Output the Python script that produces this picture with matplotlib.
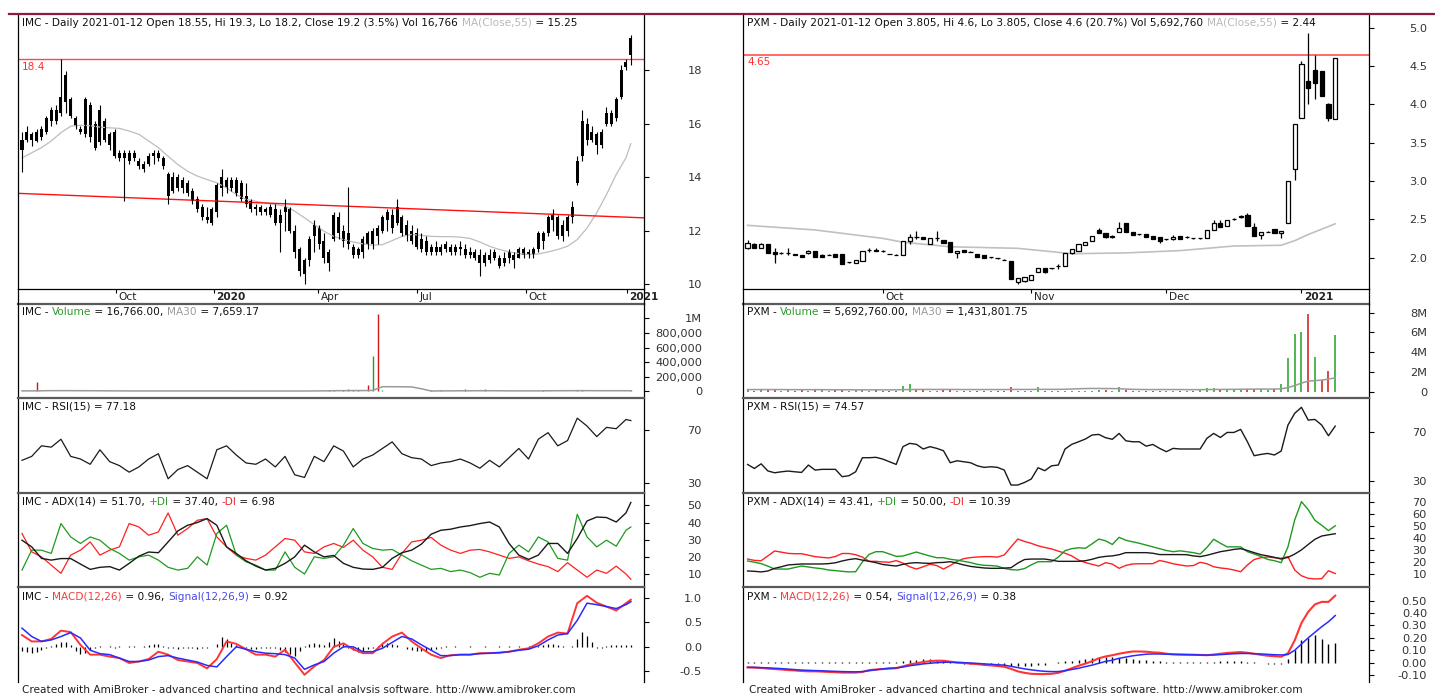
import numpy as np
import matplotlib
matplotlib.use("Agg")
import matplotlib.pyplot as plt
import matplotlib.transforms as mtransforms
from matplotlib.lines import Line2D
from matplotlib.textpath import TextPath
from matplotlib.font_manager import FontProperties

## IMC data (3-day bins)
imc_hi = [15.7, 15.9, 15.7, 15.8, 15.9, 16.3, 16.6, 16.7, 18.4, 17.95,
          17.0, 16.3, 15.9, 17.0, 16.8, 16.1, 16.7, 16.2, 15.7, 15.8,
          15.0, 15.0, 15.0, 15.0, 14.7, 14.6, 14.9, 15.0, 15.0, 14.8,
          14.2, 14.2, 14.1, 14.0, 13.9, 13.6, 13.3, 13.0, 12.9, 12.9,
          13.8, 14.3, 14.0, 14.0, 14.0, 13.9, 13.8, 13.2, 13.0, 12.95,
          12.9, 13.0, 13.0, 12.8, 13.2, 12.9, 12.2, 11.4, 11.0, 11.8,
          12.4, 12.2, 11.9, 11.3, 12.7, 12.7, 12.2, 13.65, 11.5, 11.4,
          11.8, 12.0, 12.1, 12.2, 12.6, 12.8, 12.8, 13.2, 12.6, 12.4,
          12.2, 12.1, 11.9, 11.8, 11.5, 11.6, 11.5, 11.6, 11.5, 11.5,
          11.6, 11.5, 11.4, 11.3, 11.3, 11.2, 11.3, 11.3, 11.1, 11.2,
          11.3, 11.2, 11.4, 11.4, 11.3, 11.4, 12.0, 12.0, 12.6, 12.8,
          12.6, 12.4, 12.6, 13.1, 14.8, 16.5, 16.2, 15.9, 15.7, 15.8,
          16.6, 16.5, 17.0, 18.2, 18.4, 19.3]
imc_lo = [14.2, 15.3, 15.15, 15.3, 15.4, 15.6, 15.9, 16.0, 16.3, 16.4,
          16.2, 15.8, 15.6, 15.5, 15.3, 15.0, 15.2, 15.3, 15.0, 14.7,
          14.6, 13.1, 14.5, 14.6, 14.3, 14.2, 14.4, 14.5, 14.6, 14.3,
          12.98, 13.4, 13.5, 13.4, 13.3, 13.0, 12.7, 12.4, 12.3, 12.2,
          12.5, 13.3, 13.4, 13.5, 13.3, 13.1, 12.9, 12.7, 12.6, 12.6,
          12.6, 12.5, 12.2, 11.2, 12.0, 11.9, 11.0, 10.3, 10.0, 10.7,
          11.2, 11.3, 10.8, 10.5, 11.6, 11.7, 11.4, 11.3, 11.0, 11.0,
          11.0, 11.3, 11.3, 11.5, 11.9, 12.0, 11.9, 12.2, 11.8, 11.6,
          11.5, 11.3, 11.2, 11.1, 11.1, 11.1, 11.1, 11.2, 11.1, 11.1,
          11.1, 11.0, 11.0, 10.9, 10.3, 10.7, 10.8, 10.9, 10.6, 10.7,
          10.8, 10.6, 11.0, 11.0, 11.0, 11.0, 11.2, 11.3, 11.8, 12.0,
          11.7, 11.6, 11.8, 12.3, 13.7, 14.6, 15.2, 15.3, 14.85, 15.1,
          15.9, 15.9, 16.1, 16.9, 18.0, 18.2]
imc_op = [15.0, 15.4, 15.4, 15.7, 15.5, 15.7, 16.1, 16.5, 16.4, 17.8,
          16.9, 16.2, 15.8, 15.6, 16.7, 16.0, 15.3, 16.1, 15.6, 15.7,
          14.9, 14.7, 14.6, 14.9, 14.6, 14.3, 14.5, 14.8, 14.9, 14.7,
          14.1, 13.5, 14.0, 13.6, 13.8, 13.5, 13.2, 12.9, 12.5, 12.3,
          12.7, 13.6, 13.9, 13.6, 13.9, 13.8, 13.3, 13.1, 12.8, 12.9,
          12.7, 12.9, 12.8, 12.3, 12.7, 12.8, 12.0, 11.3, 10.4, 10.9,
          11.8, 12.1, 11.6, 10.8, 11.7, 12.5, 12.0, 11.5, 11.4, 11.1,
          11.2, 11.9, 11.5, 12.1, 12.0, 12.4, 12.6, 12.3, 12.5, 12.2,
          12.0, 11.9, 11.7, 11.6, 11.2, 11.4, 11.2, 11.3, 11.4, 11.2,
          11.4, 11.3, 11.1, 11.2, 11.1, 10.8, 11.1, 11.0, 11.0, 10.8,
          11.0, 11.1, 11.0, 11.3, 11.1, 11.1, 11.3, 11.9, 11.9, 12.4,
          12.5, 11.8, 12.0, 12.5, 13.8, 14.8, 16.0, 15.4, 15.6, 15.2,
          16.0, 16.4, 16.2, 17.0, 18.1, 18.55]
imc_cl = [15.4, 15.7, 15.6, 15.35, 15.8, 16.2, 16.5, 16.1, 17.0, 16.8,
          16.3, 15.9, 15.7, 16.9, 15.5, 15.1, 16.5, 15.4, 15.2, 14.8,
          14.7, 14.9, 14.9, 14.7, 14.4, 14.5, 14.8, 14.9, 14.7, 14.4,
          13.3, 14.0, 13.6, 13.9, 13.4, 13.1, 12.8, 12.5, 12.4, 12.8,
          13.7, 14.0, 13.6, 13.9, 13.4, 13.2, 13.0, 12.8, 12.9, 12.7,
          12.8, 12.6, 12.3, 12.6, 12.9, 12.0, 11.2, 10.5, 10.9, 11.7,
          12.2, 11.5, 11.0, 11.2, 12.6, 11.9, 11.6, 11.9, 11.1, 11.3,
          11.7, 11.5, 12.0, 11.8, 12.5, 12.7, 12.1, 12.9, 11.9, 11.8,
          11.6, 11.4, 11.3, 11.2, 11.4, 11.2, 11.4, 11.5, 11.2, 11.4,
          11.3, 11.1, 11.2, 11.0, 10.8, 11.1, 10.9, 11.2, 10.7, 11.0,
          11.2, 10.9, 11.3, 11.1, 11.2, 11.3, 11.9, 11.6, 12.5, 12.6,
          11.8, 12.2, 12.5, 12.9, 14.6, 16.1, 15.4, 15.7, 15.2, 15.7,
          16.4, 16.0, 16.9, 18.0, 18.3, 19.2]
imc_vol = [8000, 5000, 6000, 130000, 5000, 4000, 6000, 5000, 9000, 7000,
           5000, 4000, 5000, 6000, 5000, 4000, 5000, 4000, 3000, 5000,
           4000, 6000, 3000, 4000, 3000, 4000, 5000, 9000, 4000, 3000,
           6000, 4000, 3000, 4000, 3000, 4000, 8000, 3000, 4000, 3000,
           5000, 6000, 4000, 3000, 4000, 3000, 4000, 3000, 3000, 4000,
           3000, 4000, 3000, 5000, 4000, 3000, 5000, 6000, 4000, 5000,
           4000, 5000, 8000, 12000, 15000, 10000, 20000, 25000, 12000, 15000,
           10000, 90000, 490000, 1060000, 15000, 8000, 6000, 5000, 7000, 5000,
           6000, 5000, 8000, 4000, 15000, 5000, 12000, 4000, 5000, 4000,
           6000, 30000, 5000, 4000, 6000, 30000, 5000, 4000, 6000, 5000,
           4000, 6000, 5000, 4000, 5000, 6000, 8000, 15000, 6000, 5000,
           7000, 5000, 6000, 8000, 20000, 15000, 9000, 6000, 7000, 5000,
           8000, 6000, 9000, 7000, 8000, 16766]
imc_hist = [-0.08, -0.10, -0.12, -0.10, -0.06, -0.02, 0.02, 0.06, 0.09, 0.10,
            0.04, -0.08, -0.14, -0.12, -0.06, -0.02, 0.01, -0.01, 0.02, -0.02,
            0.01, -0.01, 0.02, 0.01, -0.01, 0.01, 0.03, 0.06, 0.05, 0.02,
            -0.02, -0.03, -0.04, -0.03, -0.02, -0.03, -0.04, -0.03, -0.02, -0.01,
            0.05, 0.20, 0.15, 0.08, 0.03, 0.02, -0.02, -0.04, -0.05, -0.03,
            -0.02, -0.02, -0.03, -0.06, -0.10, -0.14, -0.18, -0.08, 0.02, 0.06,
            0.08, 0.06, 0.03, 0.10, 0.18, 0.12, 0.05, -0.03, -0.07, -0.10,
            -0.08, -0.05, -0.02, 0.02, 0.05, 0.07, 0.06, 0.03, -0.01, -0.04,
            -0.06, -0.08, -0.09, -0.08, -0.06, -0.04, -0.02, 0.01, -0.01, 0.01,
            0.005, -0.01, 0.01, 0.005, -0.005, 0.01, 0.005, -0.01, 0.01, 0.005,
            0.01, 0.005, 0.01, 0.005, 0.01, 0.01, 0.02, 0.03, 0.05, 0.06,
            0.04, 0.02, 0.0, 0.02, 0.15, 0.30, 0.22, 0.10, -0.03, -0.02,
            0.02, 0.03, 0.04, 0.03, 0.03, 0.04]

# IMC indicator lines, read every second bin (last point = last bin)
imc_ma55 = [14.72, 14.91, 15.1, 15.35, 15.66, 15.9, 15.94, 15.92, 15.87, 15.84,
            15.82, 15.72, 15.6, 15.35, 15.1, 14.78, 14.47, 14.22, 14.04, 13.91,
            13.79, 13.6, 13.35, 13.17, 13.1, 13.04, 12.98, 12.92, 12.73, 12.48,
            12.23, 11.98, 11.79, 11.67, 11.58, 11.51, 11.46, 11.48, 11.63, 11.79,
            11.86, 11.83, 11.79, 11.78, 11.78, 11.76, 11.71, 11.58, 11.42, 11.3,
            11.21, 11.15, 11.11, 11.13, 11.21, 11.3, 11.42, 11.67, 12.1, 12.67,
            13.35, 14.1, 14.72, 15.25]
imc_volma = [6000, 6000, 7000, 9000, 9000, 9000, 8000, 8000, 7000, 6000,
             6000, 5000, 5000, 5000, 5000, 5000, 5000, 5000, 5000, 5000,
             5000, 5000, 4000, 4000, 4000, 4000, 4000, 4000, 4000, 4000,
             5000, 6000, 8000, 9000, 10000, 10000, 12000, 63000, 63000, 62000,
             60000, 35000, 4000, 6000, 6000, 7000, 7000, 8000, 8000, 7000,
             6000, 6000, 6000, 6000, 7000, 8000, 8000, 9000, 9000, 8000,
             8000, 8000, 8000, 7659]
imc_rsi = [47, 50, 58, 57, 63, 50, 48, 44, 55, 46, 43, 38, 42, 48, 52, 33,
           40, 43, 38, 33, 55, 58, 51, 45, 44, 48, 42, 50, 36, 34, 50, 46,
           58, 54, 42, 48, 51, 56, 61, 52, 49, 48, 43, 45, 46, 48, 45, 41,
           47, 42, 49, 56, 48, 63, 68, 58, 62, 79, 73, 65, 72, 71, 78, 77.18]
imc_adx = [29.7, 25.8, 19.1, 18.1, 19.0, 19.0, 15.8, 12.7, 13.9, 14.3,
           12.3, 16.2, 20.4, 22.8, 22.4, 28.7, 35.1, 38.4, 40.0, 42.3,
           38.4, 25.8, 22.0, 17.7, 14.6, 12.3, 13.3, 16.2, 20.0, 26.8,
           22.9, 20.0, 20.8, 16.2, 13.9, 12.9, 12.7, 13.9, 19.1, 22.4,
           23.9, 27.4, 33.2, 35.5, 36.1, 37.4, 38.2, 39.4, 40.3, 37.4,
           27.8, 21.0, 18.5, 21.0, 27.8, 27.8, 22.0, 30.7, 40.9, 43.2,
           42.9, 40.3, 45.6, 51.7]
imc_pdi = [12.3, 23.9, 23.9, 22.0, 39.4, 31.6, 27.8, 31.6, 29.7, 24.9,
           22.0, 18.1, 20.0, 21.0, 18.1, 13.9, 12.3, 13.3, 20.0, 15.2,
           33.6, 38.4, 21.0, 17.1, 15.2, 12.3, 12.3, 22.9, 13.9, 10.0,
           20.0, 19.1, 20.0, 26.8, 36.5, 27.8, 24.9, 23.9, 24.3, 21.0,
           17.7, 15.2, 12.7, 13.3, 11.4, 12.3, 10.8, 8.1, 10.4, 9.4,
           22.0, 26.8, 22.9, 31.6, 28.7, 19.1, 18.1, 44.8, 31.6, 25.8,
           29.7, 26.2, 35.5, 37.4]
imc_mdi = [33.6, 22.9, 20.0, 15.2, 10.4, 21.0, 23.9, 28.7, 21.0, 23.9,
           25.8, 39.4, 37.4, 32.6, 34.5, 45.6, 32.6, 36.5, 41.3, 42.3,
           31.6, 25.8, 21.0, 19.1, 18.1, 21.0, 25.8, 30.7, 29.7, 22.9,
           22.0, 25.8, 27.8, 25.5, 29.7, 23.9, 20.0, 13.9, 12.7, 22.0,
           28.7, 29.7, 31.3, 26.8, 23.9, 22.0, 23.9, 24.3, 22.9, 21.0,
           19.1, 20.0, 17.7, 15.8, 14.3, 11.4, 16.6, 12.3, 8.1, 12.3,
           10.4, 14.6, 10.0, 6.98]
imc_macd = [0.24, 0.11, 0.11, 0.16, 0.33, 0.30, 0.04, -0.16, -0.16, -0.20,
            -0.23, -0.33, -0.30, -0.25, -0.10, -0.16, -0.27, -0.30, -0.33, -0.44,
            -0.25, 0.11, 0.06, -0.05, -0.16, -0.16, -0.20, -0.06, -0.32, -0.57,
            -0.40, -0.27, 0.0, 0.07, -0.05, -0.13, -0.13, 0.06, 0.21, 0.29,
            0.11, -0.03, -0.16, -0.23, -0.17, -0.16, -0.16, -0.13, -0.13, -0.12,
            -0.10, -0.06, -0.03, 0.07, 0.21, 0.29, 0.27, 0.89, 1.04, 0.90,
            0.82, 0.74, 0.89, 0.96]
imc_signal = [0.38, 0.21, 0.11, 0.14, 0.21, 0.29, 0.18, -0.07, -0.14, -0.16,
              -0.23, -0.30, -0.30, -0.27, -0.20, -0.18, -0.23, -0.27, -0.31, -0.38,
              -0.41, -0.20, 0.0, -0.05, -0.10, -0.13, -0.14, -0.16, -0.23, -0.46,
              -0.37, -0.30, -0.13, 0.0, 0.0, -0.10, -0.10, -0.03, 0.09, 0.21,
              0.16, 0.04, -0.07, -0.18, -0.18, -0.16, -0.16, -0.14, -0.13, -0.12,
              -0.10, -0.07, -0.05, 0.02, 0.14, 0.24, 0.27, 0.54, 0.89, 0.86,
              0.82, 0.78, 0.86, 0.92]
imc_trend = [13.39, 12.50]      # red trend line at first and last bin
imc_level = 18.4
imc_ticks = [19.2, 39.4, 60.8, 81.1, 103.5, 124.2]
imc_tick_labels = ["Oct", "2020", "Apr", "Jul", "Oct", "2021"]

## PXM data (daily)
pxm_op = [2.12, 2.18, 2.12, 2.18, 2.07, 2.06, 2.06, 2.04, 2.035, 2.06,
          2.09, 2.035, 2.035, 2.05, 2.05, 1.935, 1.93, 1.95, 2.10, 2.09,
          2.08, 2.05, 2.035, 2.03, 2.22, 2.27, 2.27, 2.17, 2.26, 2.23,
          2.20, 2.06, 2.10, 2.075, 2.05, 2.035, 2.005, 1.99, 1.97, 1.95,
          1.674, 1.687, 1.709, 1.817, 1.861, 1.861, 1.883, 1.883, 2.057, 2.091,
          2.165, 2.222, 2.361, 2.317, 2.274, 2.339, 2.457, 2.339, 2.304, 2.304,
          2.283, 2.274, 2.239, 2.239, 2.283, 2.265, 2.252, 2.252, 2.252, 2.361,
          2.457, 2.41, 2.50, 2.535, 2.56, 2.40, 2.296, 2.339, 2.37, 2.317,
          2.457, 3.15, 3.82, 4.31, 4.45, 4.44, 4.01, 3.805]
pxm_hi = [2.23, 2.19, 2.19, 2.18, 2.12, 2.07, 2.12, 2.04, 2.035, 2.10,
          2.09, 2.05, 2.04, 2.05, 2.05, 1.94, 1.97, 2.09, 2.12, 2.12,
          2.10, 2.05, 2.04, 2.22, 2.31, 2.35, 2.27, 2.25, 2.35, 2.23,
          2.20, 2.09, 2.10, 2.08, 2.05, 2.035, 2.01, 2.0, 1.975, 1.95,
          1.73, 1.743, 1.77, 1.861, 1.861, 1.865, 1.92, 2.057, 2.11, 2.178,
          2.20, 2.283, 2.38, 2.317, 2.30, 2.47, 2.457, 2.339, 2.31, 2.304,
          2.283, 2.274, 2.245, 2.30, 2.283, 2.28, 2.26, 2.26, 2.361, 2.49,
          2.49, 2.491, 2.52, 2.56, 2.58, 2.45, 2.339, 2.345, 2.37, 2.35,
          3.0, 3.74, 4.57, 4.93, 4.65, 4.44, 4.02, 4.60]
pxm_lo = [2.11, 2.12, 2.12, 2.06, 1.93, 2.05, 2.03, 2.03, 2.01, 2.05,
          2.01, 2.01, 2.03, 2.01, 1.92, 1.93, 1.93, 1.95, 2.07, 2.08,
          2.07, 2.04, 2.03, 2.03, 2.17, 2.24, 2.24, 2.17, 2.21, 2.19,
          2.07, 2.0, 2.07, 2.07, 2.01, 1.99, 2.0, 1.985, 1.965, 1.72,
          1.66, 1.68, 1.70, 1.817, 1.796, 1.855, 1.85, 1.883, 2.04, 2.09,
          2.16, 2.22, 2.317, 2.26, 2.25, 2.33, 2.339, 2.296, 2.30, 2.265,
          2.239, 2.196, 2.235, 2.23, 2.239, 2.25, 2.245, 2.24, 2.252, 2.361,
          2.40, 2.41, 2.49, 2.52, 2.41, 2.28, 2.24, 2.335, 2.317, 2.26,
          2.457, 3.01, 3.82, 4.01, 4.07, 4.11, 3.78, 3.805]
pxm_cl = [2.19, 2.12, 2.18, 2.06, 2.05, 2.06, 2.065, 2.035, 2.01, 2.09,
          2.01, 2.01, 2.035, 2.01, 1.92, 1.935, 1.97, 2.09, 2.10, 2.095,
          2.08, 2.048, 2.035, 2.22, 2.27, 2.265, 2.24, 2.25, 2.26, 2.196,
          2.07, 2.09, 2.07, 2.074, 2.01, 1.99, 2.004, 1.99, 1.97, 1.72,
          1.73, 1.743, 1.77, 1.861, 1.817, 1.861, 1.884, 2.057, 2.11, 2.178,
          2.20, 2.283, 2.317, 2.265, 2.274, 2.39, 2.339, 2.296, 2.303, 2.265,
          2.239, 2.222, 2.239, 2.274, 2.239, 2.265, 2.252, 2.252, 2.361, 2.457,
          2.404, 2.491, 2.505, 2.535, 2.41, 2.28, 2.339, 2.339, 2.317, 2.35,
          3.0, 3.74, 4.53, 4.21, 4.28, 4.11, 3.82, 4.60]
pxm_vol_m = [0.2, 0.15, 0.2, 0.25, 0.2, 0.15, 0.2, 0.15, 0.2, 0.15,
             0.25, 0.2, 0.15, 0.2, 0.25, 0.15, 0.2, 0.2, 0.15, 0.2,
             0.15, 0.1, 0.15, 0.6, 0.8, 0.3, 0.3, 0.15, 0.15, 0.2,
             0.25, 0.15, 0.15, 0.1, 0.15, 0.15, 0.1, 0.1, 0.15, 0.5,
             0.15, 0.1, 0.15, 0.5, 0.15, 0.15, 0.1, 0.15, 0.15, 0.1,
             0.1, 0.15, 0.25, 0.2, 0.15, 0.55, 0.2, 0.15, 0.1, 0.15,
             0.15, 0.1, 0.1, 0.15, 0.15, 0.1, 0.15, 0.2, 0.45, 0.4,
             0.2, 0.2, 0.3, 0.25, 0.35, 0.3, 0.3, 0.25, 0.3, 0.8,
             3.4, 5.8, 6.0, 7.9, 3.5, 1.2, 2.1, 5.69276]
pxm_volma_m = [0.25, 0.25, 0.25, 0.25, 0.25, 0.25, 0.24, 0.24, 0.24, 0.24,
               0.24, 0.24, 0.23, 0.23, 0.23, 0.23, 0.22, 0.22, 0.22, 0.22,
               0.22, 0.22, 0.22, 0.24, 0.25, 0.26, 0.26, 0.26, 0.26, 0.26,
               0.26, 0.26, 0.25, 0.25, 0.25, 0.25, 0.25, 0.25, 0.25, 0.26,
               0.26, 0.26, 0.26, 0.27, 0.27, 0.27, 0.27, 0.28, 0.3, 0.33,
               0.35, 0.36, 0.36, 0.35, 0.35, 0.34, 0.3, 0.27, 0.26, 0.25,
               0.25, 0.25, 0.25, 0.25, 0.25, 0.24, 0.24, 0.24, 0.25, 0.26,
               0.26, 0.27, 0.27, 0.28, 0.29, 0.29, 0.3, 0.3, 0.3, 0.32,
               0.45, 0.65, 0.9, 1.1, 1.15, 1.2, 1.3, 1.4318]
pxm_rsi = [43.3, 40.0, 43.8, 38.0, 36.5, 37.3, 37.9, 37.3, 36.8, 42.8,
           38.7, 39.3, 39.3, 39.3, 33.3, 34.1, 37.3, 48.8, 48.8, 49.1,
           47.7, 45.5, 43.3, 57.8, 60.5, 59.7, 55.9, 57.8, 56.4, 54.5,
           44.7, 46.3, 45.5, 44.7, 42.2, 40.9, 41.4, 40.9, 38.7, 26.5,
           26.5, 28.6, 31.4, 40.6, 38.2, 42.2, 42.8, 55.9, 59.7, 61.8,
           64.0, 67.3, 67.8, 65.1, 63.8, 68.6, 62.6, 61.8, 61.8, 58.2,
           59.6, 56.4, 53.7, 56.4, 55.9, 55.9, 55.9, 55.9, 64.6, 68.6,
           65.3, 69.4, 69.4, 71.9, 61.8, 50.4, 51.5, 52.3, 51.0, 54.2,
           75.4, 85.0, 89.9, 79.5, 80.0, 75.4, 66.7, 74.57]
pxm_adx = [12.5, 12.2, 11.7, 12.5, 14.7, 16.0, 17.5, 17.9, 18.3, 18.3,
           18.3, 18.3, 18.6, 19.3, 20.8, 22.0, 22.7, 21.5, 20.5, 19.4,
           17.9, 17.2, 16.6, 18.0, 19.0, 19.4, 19.0, 18.8, 19.4, 19.6,
           20.2, 19.0, 17.5, 16.3, 15.6, 15.0, 14.7, 14.7, 14.9, 15.2,
           19.0, 22.0, 22.4, 22.4, 22.4, 21.5, 20.5, 20.5, 20.5, 20.5,
           21.0, 22.2, 23.8, 24.6, 25.0, 26.0, 27.7, 27.7, 27.7, 27.7,
           27.2, 26.1, 26.1, 26.1, 26.1, 26.0, 25.0, 24.4, 25.5, 27.0,
           28.5, 29.4, 30.4, 31.0, 29.5, 27.7, 26.0, 25.0, 23.8, 22.4,
           23.8, 26.5, 30.0, 34.5, 38.8, 41.5, 42.5, 43.41]
pxm_pdi = [20.8, 19.8, 18.6, 16.5, 14.1, 14.1, 14.1, 15.4, 16.6, 15.8,
           15.0, 14.4, 13.3, 12.8, 12.2, 11.7, 11.9, 20.0, 26.3, 28.5,
           28.5, 26.6, 24.6, 24.9, 26.6, 28.2, 26.5, 24.9, 23.5, 23.5,
           22.2, 21.5, 20.5, 19.5, 18.0, 17.2, 17.0, 16.5, 14.6, 13.6,
           13.3, 14.5, 17.6, 20.2, 20.2, 20.2, 24.0, 29.4, 31.0, 31.8,
           31.3, 35.0, 39.0, 37.5, 34.5, 40.4, 38.0, 36.7, 35.5, 34.0,
           32.5, 31.0, 29.5, 28.5, 29.2, 28.5, 27.7, 26.5, 32.0, 38.8,
           35.5, 32.5, 32.5, 32.5, 28.5, 26.6, 24.5, 22.1, 21.0, 19.4,
           32.5, 54.8, 70.0, 63.4, 54.5, 50.4, 46.0, 50.0]
pxm_mdi = [22.4, 21.3, 21.0, 25.0, 29.1, 28.1, 27.1, 26.8, 26.8, 25.6,
           24.4, 23.8, 23.3, 24.5, 27.0, 27.0, 26.0, 24.0, 20.5, 20.5,
           20.0, 19.7, 21.1, 19.0, 16.0, 14.1, 16.0, 18.1, 17.0, 14.1,
           17.0, 20.5, 22.7, 23.6, 24.1, 24.4, 24.4, 24.0, 25.8, 32.5,
           39.0, 37.0, 35.4, 33.4, 32.0, 30.8, 29.0, 27.2, 25.0, 21.5,
           19.5, 18.0, 16.6, 19.4, 18.2, 14.7, 17.1, 18.3, 18.5, 18.5,
           18.6, 21.2, 20.0, 18.5, 17.5, 16.6, 17.0, 19.7, 18.5, 16.0,
           15.0, 14.4, 13.3, 11.9, 17.5, 22.0, 23.5, 24.1, 23.5, 23.0,
           24.4, 13.3, 8.5, 6.4, 5.9, 6.1, 12.7, 10.39]
pxm_macd = [-0.038, -0.040, -0.043, -0.048, -0.052, -0.055, -0.060, -0.063, -0.067, -0.070,
            -0.070, -0.072, -0.075, -0.077, -0.080, -0.080, -0.080, -0.075, -0.060, -0.055,
            -0.052, -0.048, -0.045, -0.030, -0.015, -0.005, 0.005, 0.012, 0.016, 0.015,
            0.008, 0.0, -0.003, -0.008, -0.012, -0.018, -0.022, -0.027, -0.033, -0.050,
            -0.070, -0.082, -0.090, -0.092, -0.092, -0.090, -0.082, -0.065, -0.045, -0.025,
            -0.008, 0.012, 0.035, 0.050, 0.060, 0.072, 0.082, 0.090, 0.090, 0.088,
            0.083, 0.080, 0.072, 0.068, 0.066, 0.065, 0.064, 0.062, 0.060, 0.065,
            0.072, 0.078, 0.082, 0.085, 0.080, 0.072, 0.063, 0.056, 0.052, 0.048,
            0.075, 0.18, 0.32, 0.41, 0.47, 0.49, 0.49, 0.54]
pxm_signal = [-0.038, -0.038, -0.040, -0.042, -0.045, -0.048, -0.052, -0.056, -0.060, -0.062,
              -0.064, -0.066, -0.068, -0.070, -0.072, -0.073, -0.074, -0.072, -0.065, -0.058,
              -0.050, -0.045, -0.042, -0.035, -0.025, -0.018, -0.010, -0.005, 0.0, 0.003,
              0.003, 0.002, 0.0, -0.003, -0.006, -0.010, -0.013, -0.017, -0.020, -0.030,
              -0.040, -0.050, -0.058, -0.065, -0.070, -0.072, -0.072, -0.065, -0.055, -0.045,
              -0.032, -0.020, -0.005, 0.010, 0.020, 0.035, 0.045, 0.055, 0.062, 0.068,
              0.070, 0.070, 0.068, 0.066, 0.065, 0.064, 0.063, 0.062, 0.061, 0.062,
              0.065, 0.068, 0.072, 0.074, 0.074, 0.072, 0.070, 0.067, 0.064, 0.062,
              0.066, 0.10, 0.15, 0.20, 0.245, 0.29, 0.33, 0.38]
pxm_hist = [0.005, 0.005, 0.005, 0.005, 0.005, 0.005, 0.005, 0.005, 0.005, 0.005,
            0.005, 0.005, 0.005, 0.005, 0.005, 0.005, 0.005, 0.005, 0.005, 0.005,
            0.005, 0.005, 0.005, 0.015, 0.02, 0.025, 0.03, 0.03, 0.025, 0.02,
            0.01, -0.005, -0.008, -0.01, -0.012, -0.015, -0.018, -0.02, -0.025, -0.03,
            -0.03, -0.028, -0.025, -0.02, -0.015, -0.005, 0.005, 0.01, 0.015, 0.025,
            0.03, 0.035, 0.045, 0.048, 0.045, 0.04, 0.035, 0.03, 0.025, 0.02,
            0.013, 0.01, 0.004, 0.003, 0.003, 0.002, 0.002, 0.002, 0.005, 0.008,
            0.01, 0.01, 0.012, 0.012, 0.008, 0.003, -0.005, -0.008, -0.01, -0.012,
            0.03, 0.10, 0.18, 0.20, 0.22, 0.19, 0.15, 0.16]
pxm_ma55_x = [0, 10, 20, 23, 30, 40, 48, 56, 64, 72, 79, 81, 83, 85, 87]
pxm_ma55 = [2.42, 2.36, 2.25, 2.20, 2.14, 2.12, 2.05, 2.06, 2.09, 2.15, 2.16, 2.22, 2.30, 2.37, 2.44]
pxm_level = 4.65
pxm_ticks = [20, 42, 62, 82]
pxm_tick_labels = ["Oct", "Nov", "Dec", "2021"]

## Layout (pixels)
W, H, DPI = 1435, 693, 100
ROWS = [(14, 289), (304, 398), (398, 493), (493, 587), (587, 682)]
COLS = [(18, 644), (743, 1369)]
BLK, GRY, GRN, RED, BLU = "#111111", "#b8b8b8", "#2e9a2e", "#e82a2a", "#4a4af0"
FS = 7.6

plt.rcParams["font.family"] = "DejaVu Sans"
fig = plt.figure(figsize=(W / DPI, H / DPI), dpi=DPI)
fp = FontProperties(family="DejaVu Sans", size=FS)


def adv(s):
    a = TextPath((0, 0), s + "|", prop=fp).get_extents().x1
    b = TextPath((0, 0), "|", prop=fp).get_extents().x1
    return (a - b) * DPI / 72.0


def rich(x, yc, parts):
    done = ""
    for s, c in parts:
        fig.text((x + adv(done)) / W, 1 - (yc + 3.8) / H, s, color=c,
                 fontsize=FS, va="baseline", ha="left")
        done += s


def mkax(col, row, xlim, ylim, ticks, labels):
    x0, x1 = COLS[col]
    y0, y1 = ROWS[row]
    ax = fig.add_axes([x0 / W, 1 - y1 / H, (x1 - x0) / W, (y1 - y0) / H])
    ax.set_xlim(*xlim)
    ax.set_ylim(*ylim)
    ax.yaxis.tick_right()
    ax.tick_params(axis="y", direction="out", length=3.6, width=0.8, color="black",
                   labelsize=8.2, labelcolor="#333333", pad=38.2)
    ax.set_yticks(ticks, labels=labels, ha="right")
    ax.tick_params(axis="x", length=0, labelbottom=False)
    ax.set_xticks([])
    for s in ax.spines.values():
        s.set_color("black")
        s.set_linewidth(0.9)
    if row > 0:
        ax.spines["top"].set_color("#5a5a5a")
        ax.spines["top"].set_linewidth(1.6)
        ax.spines["bottom"].set_visible(False)
    return ax


XL = [(-0.82, 127.7), (-0.68, 92.0)]
ix = np.arange(len(imc_cl))
gx = np.r_[np.arange(0, len(imc_cl) - 1, 2), len(imc_cl) - 1]
px = np.arange(len(pxm_cl))

# ---------- price panels
a = mkax(0, 0, XL[0], (9.825, 20.09), [10, 12, 14, 16, 18], ["10", "12", "14", "16", "18"])
a.spines["top"].set_visible(False)
a.plot(gx, imc_ma55, color="#bdbdbd", lw=0.9)
a.axhline(imc_level, color="#ff4848", lw=1.0)
a.axline((ix[0], imc_trend[0]), (ix[-1], imc_trend[1]), color="#ff1010", lw=1.0)
a.vlines(ix, imc_lo, imc_hi, color="black", lw=0.8)
o, c = np.array(imc_op), np.array(imc_cl)
a.bar(ix, np.abs(c - o), bottom=np.minimum(o, c), width=0.62, color="black", lw=0)
a.text(0, imc_level, "18.4", color="#ff3030", fontsize=FS, va="top", ha="left",
       transform=mtransforms.blended_transform_factory(a.transAxes, a.transData)
       + mtransforms.ScaledTranslation(4 / DPI, -2.5 / DPI, fig.dpi_scale_trans))
a.set_xticks(imc_ticks)
a.tick_params(axis="x", direction="out", length=2.9, width=0.8, color="black")
for p, lab in zip(imc_ticks, imc_tick_labels):
    a.text(p, 0, lab, fontsize=FS, color="#222222", ha="left", va="center",
           fontweight="bold" if lab.isdigit() else "normal", clip_on=False,
           transform=mtransforms.blended_transform_factory(a.transData, a.transAxes)
           + mtransforms.ScaledTranslation(2.5 / DPI, -7.5 / DPI, fig.dpi_scale_trans))

b = mkax(1, 0, XL[1], (1.589, 5.179), [2.0, 2.5, 3.0, 3.5, 4.0, 4.5, 5.0],
         ["2.0", "2.5", "3.0", "3.5", "4.0", "4.5", "5.0"])
b.spines["top"].set_visible(False)
b.plot(pxm_ma55_x, pxm_ma55, color="#c0c0c0", lw=1.2)
b.axhline(pxm_level, color="#ff5050", lw=1.2)
po, pc = np.array(pxm_op), np.array(pxm_cl)
b.vlines(px, pxm_lo, pxm_hi, color="black", lw=0.9, zorder=2)
b.bar(px, np.maximum(np.abs(pc - po), 0.0005), bottom=np.minimum(po, pc), width=0.62,
      color=np.where(pc >= po, "white", "black"), edgecolor="black", lw=0.9, zorder=3)
b.text(0, pxm_level, "4.65", color="#ff3030", fontsize=FS, va="top", ha="left",
       transform=mtransforms.blended_transform_factory(b.transAxes, b.transData)
       + mtransforms.ScaledTranslation(4 / DPI, -2.5 / DPI, fig.dpi_scale_trans))
b.set_xticks(pxm_ticks)
b.tick_params(axis="x", direction="out", length=2.9, width=0.8, color="black")
for p, lab in zip(pxm_ticks, pxm_tick_labels):
    b.text(p, 0, lab, fontsize=FS, color="#222222", ha="left", va="center",
           fontweight="bold" if lab.isdigit() else "normal", clip_on=False,
           transform=mtransforms.blended_transform_factory(b.transData, b.transAxes)
           + mtransforms.ScaledTranslation(2.5 / DPI, -7.5 / DPI, fig.dpi_scale_trans))

# ---------- volume
up_i = np.r_[True, c[1:] >= c[:-1]]
a = mkax(0, 1, XL[0], (-92000, 1199000), [0, 200000, 400000, 600000, 800000, 1000000],
         ["0", "200,000", "400,000", "600,000", "800,000", "1M"])
a.vlines(ix, 0, imc_vol, colors=np.where(up_i, "#20a020", "#d01818"), lw=1.0)
a.plot(gx, imc_volma, color="#9a9a9a", lw=1.1)

up_p = np.r_[True, pc[1:] >= pc[:-1]]
b = mkax(1, 1, XL[1], (-0.6e6, 8.86e6), [0, 2e6, 4e6, 6e6, 8e6], ["0", "2M", "4M", "6M", "8M"])
b.vlines(px, 0, np.array(pxm_vol_m) * 1e6, colors=np.where(up_p, "#20a020", "#d01818"), lw=1.1)
b.plot(px, np.array(pxm_volma_m) * 1e6, color="#9a9a9a", lw=1.1)

# ---------- RSI
a = mkax(0, 2, XL[0], (22.2, 94.3), [30, 70], ["30", "70"])
a.plot(gx, imc_rsi, color="#1a1a1a", lw=0.9)
b = mkax(1, 2, XL[1], (20.0, 97.5), [30, 70], ["30", "70"])
b.plot(px, pxm_rsi, color="#1a1a1a", lw=1.0)

# ---------- ADX
a = mkax(0, 3, XL[0], (2.43, 57.2), [10, 20, 30, 40, 50], ["10", "20", "30", "40", "50"])
a.plot(gx, imc_mdi, color="#ff2020", lw=0.9)
a.plot(gx, imc_pdi, color="#1f9a1f", lw=0.9)
a.plot(gx, imc_adx, color="#1a1a1a", lw=1.0)
b = mkax(1, 3, XL[1], (-0.8, 77.2), [10, 20, 30, 40, 50, 60, 70],
         ["10", "20", "30", "40", "50", "60", "70"])
b.plot(px, pxm_mdi, color="#ff2020", lw=1.0)
b.plot(px, pxm_pdi, color="#1f9a1f", lw=1.0)
b.plot(px, pxm_adx, color="#1a1a1a", lw=1.0)

# ---------- MACD
a = mkax(0, 4, XL[0], (-0.718, 1.22), [-0.5, 0.0, 0.5, 1.0], ["-0.5", "0.0", "0.5", "1.0"])
a.vlines(ix, 0, imc_hist, color="black", lw=0.9)
a.plot(gx, imc_macd, color="#ff3535", lw=1.4)
a.plot(gx, imc_signal, color="#2a2aff", lw=1.1)
b = mkax(1, 4, XL[1], (-0.156, 0.61), [-0.1, 0.0, 0.1, 0.2, 0.3, 0.4, 0.5],
         ["-0.10", "0.00", "0.10", "0.20", "0.30", "0.40", "0.50"])
b.vlines(px, 0, pxm_hist, color="black", lw=1.0)
b.plot(px, pxm_macd, color="#ff3535", lw=1.5)
b.plot(px, pxm_signal, color="#2a2aff", lw=1.1)

# ---------- frame bits
fig.add_artist(Line2D([9 / W, 1], [1 - 14 / H] * 2, color="#8e1b3e", lw=1.6))
for xv in (18, 644, 743, 1369):
    fig.add_artist(Line2D([xv / W] * 2, [1 - 289 / H, 1 - 304 / H], color="black", lw=0.9))

# ---------- titles
rich(22, 22, [("IMC - Daily 2021-01-12 Open 18.55, Hi 19.3, Lo 18.2, Close 19.2 (3.5%) Vol 16,766 ", BLK),
              ("MA(Close,55)", GRY), (" = 15.25", BLK)])
rich(747, 22, [("PXM - Daily 2021-01-12 Open 3.805, Hi 4.6, Lo 3.805, Close 4.6 (20.7%) Vol 5,692,760 ", BLK),
               ("MA(Close,55)", GRY), (" = 2.44", BLK)])
rich(22, 311, [("IMC - ", BLK), ("Volume", GRN), (" = 16,766.00, ", BLK), ("MA30", "#9a9a9a"), (" = 7,659.17", BLK)])
rich(747, 311, [("PXM - ", BLK), ("Volume", GRN), (" = 5,692,760.00, ", BLK), ("MA30", "#9a9a9a"),
                (" = 1,431,801.75", BLK)])
rich(22, 406, [("IMC - RSI(15) = 77.18", BLK)])
rich(747, 406, [("PXM - RSI(15) = 74.57", BLK)])
rich(22, 501, [("IMC - ADX(14) = 51.70, ", BLK), ("+DI", GRN), (" = 37.40, ", BLK), ("-DI", RED), (" = 6.98", BLK)])
rich(747, 501, [("PXM - ADX(14) = 43.41, ", BLK), ("+DI", GRN), (" = 50.00, ", BLK), ("-DI", RED), (" = 10.39", BLK)])
rich(22, 596, [("IMC - ", BLK), ("MACD(12,26)", "#f04040"), (" = 0.96, ", BLK), ("Signal(12,26,9)", BLU), (" = 0.92", BLK)])
rich(747, 596, [("PXM - ", BLK), ("MACD(12,26)", "#f04040"), (" = 0.54, ", BLK), ("Signal(12,26,9)", BLU), (" = 0.38", BLK)])
foot = "Created with AmiBroker - advanced charting and technical analysis software. http://www.amibroker.com"
rich(22, 689, [(foot, "#222222")])
rich(749, 689, [(foot, "#222222")])

fig.savefig("out.png", dpi=DPI, facecolor="white")
